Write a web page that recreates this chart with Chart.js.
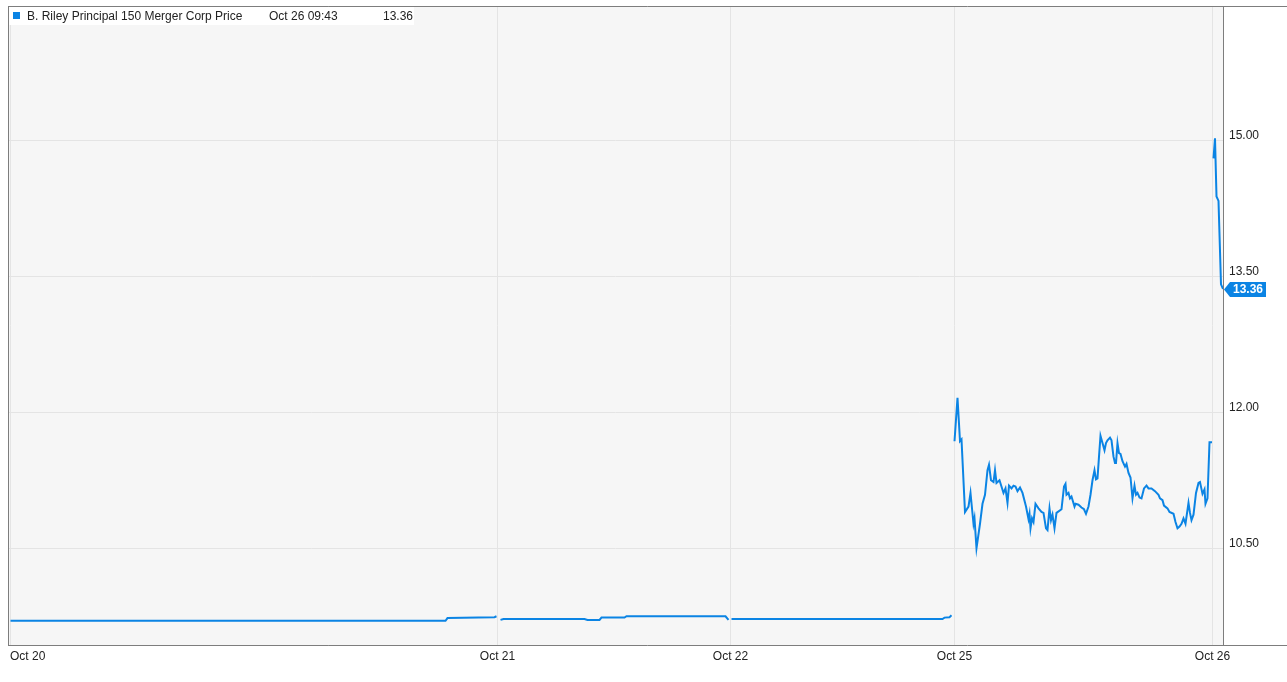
<!DOCTYPE html>
<html>
<head>
<meta charset="utf-8">
<script src="https://cdn.jsdelivr.net/npm/chart.js@4"></script>
<style>
  body { margin: 0; background: #fff; }
  canvas { display: block; }
</style>
</head>
<body>
<canvas id="price" width="1287" height="682"></canvas>
<script>
// series info
const seriesName = "B. Riley Principal 150 Merger Corp Price";
const lastTime = "Oct 26 09:43";
const lastPrice = 13.36;

// x is the intraday bar index, days start at these bars
const dayLabels = ["Oct 20", "Oct 21", "Oct 22", "Oct 25", "Oct 26"];
const dayStart = [0, 487, 720, 944, 1202];

const yTicks = [10.5, 12, 13.5, 15];

// [bar, price]
const oct20 = [[0, 9.70], [435, 9.70], [437, 9.73], [484, 9.74], [486, 9.75]];
const oct21 = [[490, 9.71], [493, 9.72], [574, 9.72], [577, 9.71], [589, 9.71], [591, 9.735],
  [614, 9.735], [616, 9.75], [715, 9.75], [718, 9.71]];
const oct22 = [[721, 9.72], [932, 9.72], [934, 9.735], [939, 9.74], [941, 9.76]];
const oct25 = [[944, 11.68], [947, 12.16], [949.5, 11.68], [951, 11.70], [954.5, 10.90], [958, 10.96],
  [960, 11.11], [963, 10.77], [964, 10.83], [966, 10.50], [969.5, 10.77], [972, 10.99],
  [974.5, 11.09], [977, 11.36], [978.5, 11.42], [980.5, 11.25], [983, 11.23], [984.5, 11.36],
  [986, 11.22], [989, 11.25], [993, 11.11], [995, 11.16], [997, 11.00], [998.5, 11.19],
  [1001, 11.16], [1003, 11.19], [1005, 11.18], [1007, 11.13], [1009.5, 11.17], [1012, 11.11],
  [1015.5, 10.96], [1018, 10.82], [1019, 10.88], [1020, 10.72], [1021.5, 10.83], [1023, 10.79],
  [1025, 10.99], [1028, 10.94], [1031, 10.90], [1033, 10.89], [1035.5, 10.72], [1037, 10.70],
  [1039, 10.94], [1040.5, 10.81], [1042, 10.87], [1044, 10.72], [1046, 10.89], [1051, 10.93],
  [1053.5, 11.18], [1055, 11.21], [1056, 11.09], [1058, 11.11], [1059.5, 11.05], [1061, 11.07],
  [1064, 10.96], [1065, 10.99], [1068, 10.98], [1071, 10.95], [1073.5, 10.93], [1075.5, 10.88],
  [1078, 10.96], [1080, 11.09], [1082, 11.25], [1084, 11.36], [1085.5, 11.26], [1087, 11.27],
  [1088.5, 11.51], [1090, 11.74], [1092, 11.66], [1094, 11.58], [1095.5, 11.66], [1097, 11.69],
  [1099.5, 11.72], [1101, 11.69], [1103, 11.51], [1104.5, 11.44], [1105.5, 11.44], [1107, 11.66],
  [1108.5, 11.55], [1110, 11.54], [1112, 11.46], [1114.5, 11.40], [1116, 11.43], [1118, 11.33],
  [1120, 11.28], [1122, 11.05], [1124, 11.19], [1125.5, 11.09], [1127, 11.11], [1129, 11.06],
  [1131, 11.05], [1133.5, 11.16], [1136, 11.19], [1138, 11.16], [1141, 11.16], [1144.5, 11.13],
  [1148, 11.09], [1149.5, 11.05], [1152, 11.03], [1153.5, 10.97], [1157, 10.94], [1159, 10.90],
  [1163, 10.88], [1165, 10.79], [1167, 10.72], [1169, 10.74], [1171, 10.77], [1173, 10.83],
  [1175, 10.77], [1178, 11.00], [1179.5, 10.89], [1181, 10.81], [1183, 10.87], [1185.5, 11.11],
  [1188, 11.22], [1189.5, 11.23], [1192, 11.10], [1194, 11.15], [1195, 10.99], [1197, 11.05],
  [1199, 11.67], [1201.5, 11.67]];
const oct26 = [[1203, 14.80], [1204.5, 15.02], [1206, 14.38], [1208, 14.33], [1210.5, 13.41], [1212.5, 13.36]];

const blue = "#0b84e4";
const frame = "#7d7d7d";
const grid = "#e4e4e4";

// one line, broken between trading days
const points = [];
[oct20, oct21, oct22, oct25, oct26].forEach((day, i) => {
  if (i > 0) points.push({x: day[0][0] - 0.5, y: null});
  day.forEach((p) => points.push({x: p[0], y: p[1]}));
});

const backdrop = {
  id: "backdrop",
  beforeDraw(chart) {
    const {ctx, chartArea: a} = chart;
    ctx.save();
    ctx.fillStyle = "#fff";
    ctx.fillRect(0, 0, chart.width, chart.height);
    ctx.fillStyle = "#f6f6f6";
    ctx.fillRect(a.left, a.top, a.right - a.left, a.bottom - a.top);
    ctx.restore();
    // first date label starts at its tick instead of centering on it
    const items = chart.scales.x.getLabelItems();
    if (items.length) {
      items[0].options.textAlign = "left";
      items[0].options.translation[0] = chart.scales.x.getPixelForValue(dayStart[0]) - 0.5;
    }
  },
  afterDraw(chart) {
    const {ctx, chartArea: a} = chart;
    ctx.save();
    ctx.strokeStyle = frame;
    ctx.lineWidth = 1;
    ctx.beginPath();
    ctx.moveTo(a.left + 0.5, a.top + 0.5);
    ctx.lineTo(chart.width, a.top + 0.5);
    ctx.moveTo(a.left + 0.5, a.bottom + 0.5);
    ctx.lineTo(chart.width, a.bottom + 0.5);
    ctx.moveTo(a.left + 0.5, a.top);
    ctx.lineTo(a.left + 0.5, a.bottom + 1);
    ctx.moveTo(a.right + 0.5, a.top);
    ctx.lineTo(a.right + 0.5, a.bottom + 1);
    ctx.stroke();

    // legend strip
    ctx.fillStyle = "#fff";
    ctx.fillRect(a.left + 1, a.top + 1, 405, 18);
    ctx.fillStyle = blue;
    ctx.fillRect(13, 12, 7, 7);
    ctx.fillStyle = "#222";
    ctx.font = "12px 'Liberation Sans', Arial, sans-serif";
    ctx.textBaseline = "alphabetic";
    ctx.textAlign = "left";
    ctx.fillText(seriesName, 27, 20);
    ctx.fillText(lastTime, 269, 20);
    ctx.fillText(lastPrice.toFixed(2), 383, 20);

    // last price tag
    const y = Math.round(chart.scales.y.getPixelForValue(lastPrice)) + 0.5;
    const x0 = a.right + 1;
    ctx.fillStyle = blue;
    ctx.beginPath();
    ctx.moveTo(x0, y);
    ctx.lineTo(x0 + 6, y - 7.5);
    ctx.lineTo(1266, y - 7.5);
    ctx.lineTo(1266, y + 7.5);
    ctx.lineTo(x0 + 6, y + 7.5);
    ctx.closePath();
    ctx.fill();
    ctx.fillStyle = "#fff";
    ctx.font = "bold 12px 'Liberation Sans', Arial, sans-serif";
    ctx.textAlign = "center";
    ctx.textBaseline = "middle";
    ctx.fillText(lastPrice.toFixed(2), 1248, y + 0.5);
    ctx.restore();
  },
};

Chart.defaults.font.family = "'Liberation Sans', Arial, sans-serif";
Chart.defaults.font.size = 12;
Chart.defaults.color = "#222";

new Chart(document.getElementById("price"), {
  type: "line",
  data: {
    datasets: [
      {
        label: seriesName,
        data: points,
        borderColor: blue,
        borderWidth: 2,
        pointRadius: 0,
        tension: 0,
        spanGaps: false,
      },
    ],
  },
  options: {
    responsive: false,
    animation: false,
    devicePixelRatio: 1,
    layout: { padding: { left: 8, top: 6, right: 0, bottom: 0 } },
    plugins: {
      legend: { display: false },
      tooltip: { enabled: false },
    },
    scales: {
      x: {
        type: "linear",
        min: -2.5,
        max: 1212.5,
        afterBuildTicks: (s) => { s.ticks = dayStart.map((v) => ({value: v})); },
        afterFit: (s) => { s.height = 37; s.paddingLeft = 0; s.paddingRight = 0; },
        ticks: {
          autoSkip: false,
          maxRotation: 0,
          padding: 4,
          callback: (v, i) => dayLabels[i],
        },
        grid: { color: grid, drawTicks: false },
        border: { display: false },
      },
      y: {
        position: "right",
        min: 9.433,
        max: 16.48,
        afterBuildTicks: (s) => { s.ticks = yTicks.map((v) => ({value: v})); },
        afterFit: (s) => { s.width = 64; s.paddingTop = 0; s.paddingBottom = 0; },
        ticks: {
          padding: 6,
          labelOffset: -5,
          callback: (v) => v.toFixed(2),
        },
        grid: { color: grid, drawTicks: false },
        border: { display: false },
      },
    },
  },
  plugins: [backdrop],
});
</script>
</body>
</html>
